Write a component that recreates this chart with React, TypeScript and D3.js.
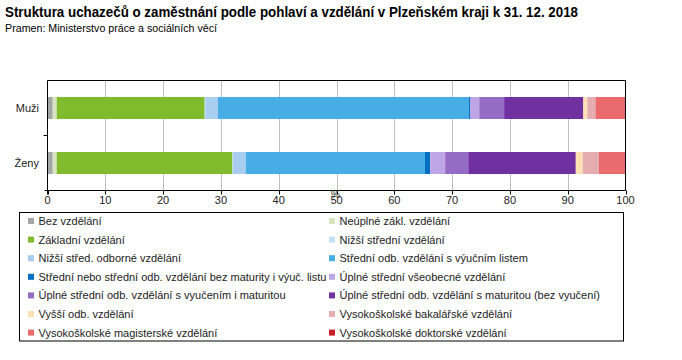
import React from "react";
import * as d3 from "d3";

const categories = ["Muži", "Ženy"];
const seriesNames = [
  "Bez vzdělání",
  "Neúplné zákl. vzdělání",
  "Základní vzdělání",
  "Nižší střední vzdělání",
  "Nižší střed. odborné vzdělání",
  "Střední odb. vzdělání s výučním listem",
  "Střední nebo střední odb. vzdělání bez maturity i výuč. listu",
  "Úplné střední všeobecné vzdělání",
  "Úplné střední odb. vzdělání s vyučením i maturitou",
  "Úplné střední odb. vzdělání s maturitou (bez vyučení)",
  "Vyšší odb. vzdělání",
  "Vysokoškolské bakalářské vzdělání",
  "Vysokoškolské magisterské vzdělání",
  "Vysokoškolské doktorské vzdělání",
];
const seriesColors = [
  "#a5a5a5", "#d7e4bd", "#80bb2d", "#c6e0f5", "#a9cdee", "#47ade5", "#0070c0",
  "#bca6e5", "#956cc3", "#7030a0", "#fde0b4", "#e6adb1", "#ea6a6e", "#c8202a",
];
const valuesMuzi = [0.9, 0.7, 25.6, 0.1, 2.2, 43.4, 0.2, 1.6, 4.3, 13.7, 0.7, 1.4, 5.1, 0.1];
const valuesZeny = [0.9, 0.7, 30.4, 0.1, 2.2, 31.0, 0.9, 2.6, 4.0, 18.6, 1.2, 2.8, 4.5, 0.1];
const xTicks = [0, 10, 20, 30, 40, 50, 60, 70, 80, 90, 100];

const title = "Struktura uchazečů o zaměstnání podle pohlaví a vzdělání v Plzeňském kraji k 31. 12. 2018";
const subtitle = "Pramen: Ministerstvo práce a sociálních věcí";

export default function App() {
  const W = 682, H = 360;
  const left = 47.5, right = 625.5, top = 80.5, bottom = 190.5;
  const x = d3.scaleLinear().domain([0, 100]).range([left, right]);
  const y = d3.scaleBand().domain(categories).range([top, bottom]).paddingInner(0.6).paddingOuter(0.3);
  const rows = [valuesMuzi, valuesZeny];
  const font = "'Liberation Sans', Arial, sans-serif";

  const legendRows = Math.ceil(seriesNames.length / 2);
  const legY0 = 221, legDy = 18.6;

  return (
    <div style={{ position: "absolute", left: 0, top: 0 }}>
      <svg width={W} height={H} style={{ display: "block", background: "#fff" }} fontFamily={font}>
        <text x={5} y={17} fontSize={14} fontWeight="bold" fill="#000" textLength={573} lengthAdjust="spacingAndGlyphs">{title}</text>
        <text x={5} y={32} fontSize={10.5} fill="#000" textLength={212} lengthAdjust="spacingAndGlyphs">{subtitle}</text>

        {xTicks.slice(1, -1).map((t) => (
          <line key={"g" + t} x1={Math.round(x(t)) + 0.5} x2={Math.round(x(t)) + 0.5} y1={top} y2={bottom} stroke="#bfbfbf" strokeWidth={1} />
        ))}

        {categories.map((c, ci) => {
          const vals = rows[ci];
          const stack = d3.cumsum(vals);
          return (
            <g key={c}>
              {vals.map((v, si) => {
                const x0 = x(si === 0 ? 0 : stack[si - 1]);
                const x1 = x(stack[si]);
                return (
                  <rect key={si} x={x0} y={(y(c) as number)} width={Math.max(0, x1 - x0)} height={y.bandwidth()} fill={seriesColors[si]} />
                );
              })}
            </g>
          );
        })}

        {/* frame */}
        <line x1={left} x2={right} y1={top} y2={top} stroke="#000" />
        <line x1={right} x2={right} y1={top} y2={bottom} stroke="#000" />
        <line x1={left} x2={left} y1={top} y2={bottom + 4} stroke="#000" />
        <line x1={left - 3} x2={right} y1={bottom} y2={bottom} stroke="#000" />
        <line x1={left - 4} x2={left} y1={(top + bottom) / 2} y2={(top + bottom) / 2} stroke="#000" />
        {xTicks.map((t) => (
          <line key={"t" + t} x1={Math.round(x(t)) + 0.5} x2={Math.round(x(t)) + 0.5} y1={bottom} y2={bottom + 4} stroke="#000" />
        ))}
        {xTicks.map((t) => (
          <text key={"l" + t} x={x(t)} y={204} fontSize={11} textAnchor="middle" fill="#222">{t}</text>
        ))}
        <text x={x(50) - 1} y={198} fontSize={10} textAnchor="middle" fill="#222">%</text>

        {categories.map((c) => (
          <text key={"y" + c} x={39} y={(y(c) as number) + y.bandwidth() / 2 + 4} fontSize={11} textAnchor="end" fill="#222">{c}</text>
        ))}

        {/* legend */}
        <rect x={19.5} y={212.5} width={604} height={128.5} fill="none" stroke="#000" />
        {d3.range(legendRows).map((r) =>
          [0, 1].map((col) => {
            const i = r * 2 + col;
            if (i >= seriesNames.length) return null;
            const mx = col === 0 ? 28 : 329;
            const cy = legY0 + r * legDy;
            return (
              <g key={"lg" + i}>
                <rect x={mx} y={cy - 3} width={6} height={6} fill={seriesColors[i]} />
                <text x={mx + 10.5} y={cy + 4} fontSize={11} fill="#222">{seriesNames[i]}</text>
              </g>
            );
          })
        )}
      </svg>
    </div>
  );
}
